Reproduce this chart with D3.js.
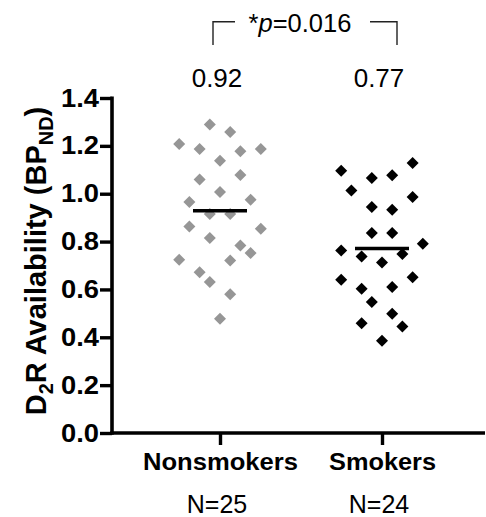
<!DOCTYPE html>
<html><head><meta charset="utf-8">
<script src="https://cdn.jsdelivr.net/npm/d3@7"></script>
<style>body{margin:0;background:#fff}svg{display:block}text{font-family:"Liberation Sans",Arial,sans-serif}</style>
</head><body>
<svg id="c" width="486" height="517"></svg>
<script>
const groups = ["Nonsmokers", "Smokers"];
const groupN = ["N=25", "N=24"];
const meanLabels = ["0.92", "0.77"];
const pLabel = "=0.016";
const yTicks = [0.0, 0.2, 0.4, 0.6, 0.8, 1.0, 1.2, 1.4];
// values with beeswarm slot (-4..4)
const nonsmokerValues = [1.289,1.258,1.208,1.187,1.177,1.187,1.138,1.059,1.078,1.007,0.965,0.975,0.915,0.915,0.863,0.854,0.815,0.784,0.752,0.724,0.721,0.672,0.631,0.580,0.477];
const nonsmokerSlots  = [-1,1,-4,-2,2,4,0,-2,2,0,-3,3,-1,1,-3,4,-1,2,3,-4,1,-2,-1,1,0];
const smokerValues = [1.096,1.128,1.066,1.077,1.013,0.986,0.944,0.933,0.836,0.836,0.791,0.763,0.738,0.748,0.713,0.640,0.651,0.603,0.610,0.547,0.498,0.459,0.445,0.385];
const smokerSlots  = [-4,3,-1,1,-3,3,-1,1,-1,1,4,-4,-2,2,0,-4,3,-2,1,-1,1,-2,2,0];
const groupMeans = [0.929, 0.771];

const svg = d3.select("#c");
const y = d3.scaleLinear().domain([0, 1.4]).range([433, 98]);
const x = d3.scalePoint().domain(groups).range([220, 382]);
const slotW = 10.2;

// Y axis
const yAxis = svg.append("g").attr("transform", "translate(112,0)")
  .call(d3.axisLeft(y).tickValues(yTicks).tickFormat(d3.format(".1f")).tickSize(12).tickPadding(1));
yAxis.select(".domain").attr("d", `M0,${y(1.4)-1.5}V${y(0)+1.8}`).attr("stroke","#000").attr("stroke-width",3.6);
yAxis.selectAll(".tick line").attr("stroke","#000").attr("stroke-width",3.4);
yAxis.selectAll(".tick text").attr("font-size",25).attr("font-weight","bold").attr("fill","#000")
  .attr("textLength",38).attr("lengthAdjust","spacingAndGlyphs");

// X axis
const xAxis = svg.append("g").attr("transform", `translate(0,${y(0)})`)
  .call(d3.axisBottom(x).tickSize(12).tickPadding(9).tickFormat(d=>d));
xAxis.select(".domain").attr("d", "M110.2,0H485").attr("stroke","#000").attr("stroke-width",3.6);
xAxis.selectAll(".tick line").attr("stroke","#000").attr("stroke-width",3.4);
xAxis.selectAll(".tick text").attr("font-size",23).attr("font-weight","bold").attr("fill","#000").attr("dy","0.71em")
  .attr("textLength",(d,i)=>[155,107][i]).attr("lengthAdjust","spacingAndGlyphs");

// N labels
svg.append("g").selectAll("text").data(groups).join("text")
  .attr("x", d => x(d)-3).attr("y", 513).attr("text-anchor","middle")
  .attr("font-size",25).text((d,i)=>groupN[i]);

// mean labels
svg.append("g").selectAll("text").data(groups).join("text")
  .attr("x", d => x(d)-3).attr("y", 87).attr("text-anchor","middle")
  .attr("font-size",26).text((d,i)=>meanLabels[i]);

// bracket
const bx0 = x(groups[0]) - 7, bx1 = x(groups[1]) + 15;
svg.append("path").attr("d", `M${bx0},45V21.7H${bx0+22}`).attr("fill","none").attr("stroke","#222").attr("stroke-width",1.4);
svg.append("path").attr("d", `M${bx1-27},21.7H${bx1}V45`).attr("fill","none").attr("stroke","#222").attr("stroke-width",1.4);
const pt = svg.append("text").attr("x", (x(groups[0])+x(groups[1]))/2 - 1).attr("y", 31.5).attr("text-anchor","middle").attr("font-size",25.5);
pt.append("tspan").text("*");
pt.append("tspan").attr("font-style","italic").text("p");
pt.append("tspan").text(pLabel);

// Y label
const yl = svg.append("text").attr("transform","translate(46,261) rotate(-90)").attr("text-anchor","middle")
  .attr("font-size",29).attr("font-weight","bold");
yl.append("tspan").text("D");
yl.append("tspan").attr("font-size",20).attr("dy",7).text("2");
yl.append("tspan").attr("dy",-7).text("R Availability (BP");
yl.append("tspan").attr("font-size",20).attr("dy",7).text("ND");
yl.append("tspan").attr("dy",-7).text(")");

// points
const sym = d3.symbol(d3.symbolSquare, 72);
const colors = ["#969696", "#000000"];
const allData = [
  nonsmokerValues.map((v,i)=>({g:groups[0], v, s:nonsmokerSlots[i]})),
  smokerValues.map((v,i)=>({g:groups[1], v, s:smokerSlots[i]}))
];
allData.forEach((arr, gi) => {
  svg.append("g").selectAll("path").data(arr).join("path")
    .attr("d", sym)
    .attr("transform", d => `translate(${x(d.g)+d.s*slotW},${y(d.v)}) rotate(45)`)
    .attr("fill", colors[gi]);
});

// mean lines
svg.append("g").selectAll("line").data(groups).join("line")
  .attr("x1", d=>x(d)-27).attr("x2", d=>x(d)+27)
  .attr("y1", (d,i)=>y(groupMeans[i])).attr("y2", (d,i)=>y(groupMeans[i]))
  .attr("stroke","#000").attr("stroke-width",3.5);
</script>
</body></html>
